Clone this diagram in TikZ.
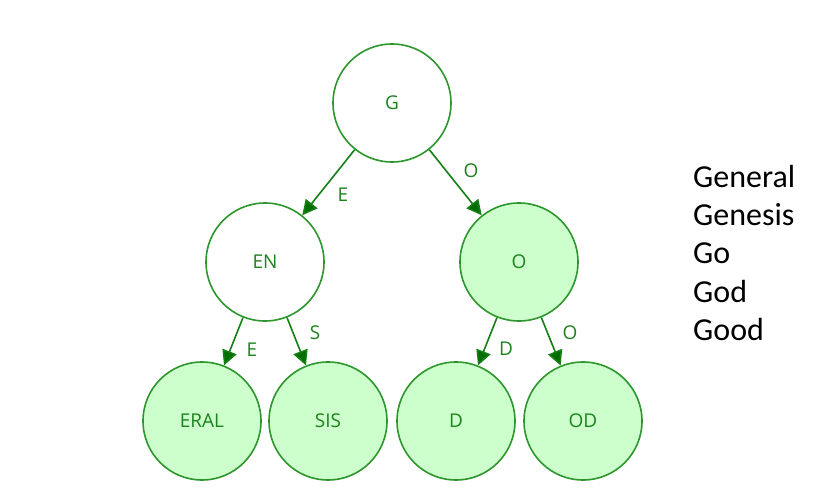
\documentclass[tikz,border=0pt]{standalone}
\usepackage{fontspec}
\setmainfont{Open Sans}
\newfontfamily\listfont{Carlito}
\usetikzlibrary{arrows.meta}
\definecolor{ringgreen}{RGB}{45,150,45}
\definecolor{leafgreen}{RGB}{204,255,204}
\definecolor{edgegreen}{RGB}{20,128,20}
\definecolor{tipgreen}{RGB}{0,110,0}
\definecolor{textgreen}{RGB}{30,130,30}
\tikzset{
  trie/.style={circle, draw=ringgreen, line width=1.6pt, minimum size=118pt,
    inner sep=0pt, text=textgreen, font=\fontsize{19}{22}\selectfont},
  inner/.style={trie, fill=white},
  leaf/.style={trie, fill=leafgreen},
  edge/.style={draw=edgegreen, line width=1.6pt,
    -{Triangle[length=15pt,width=15pt,fill=tipgreen]}},
  lbl/.style={text=textgreen, font=\fontsize{19}{22}\selectfont, inner sep=0pt},
  word/.style={anchor=base west, font=\listfont\fontsize{32}{36}\selectfont, inner sep=0pt}
}
\begin{document}
\begin{tikzpicture}[x=1pt,y=-1pt]
\useasboundingbox (0,0) rectangle (831,495);
% trie nodes
\node[inner] (G)    at (392,103) {G};
\node[inner] (EN)   at (265,262) {EN};
\node[leaf]  (O)    at (519,262) {O};
\node[leaf]  (ERAL) at (202,421) {ERAL};
\node[leaf]  (SIS)  at (328,421) {SIS};
\node[leaf]  (D)    at (456,421) {D};
\node[leaf]  (OD)   at (583,421) {OD};
% edges
\draw[edge] (G) -- (EN);
\draw[edge] (G) -- (O);
\draw[edge] (EN) -- (ERAL);
\draw[edge] (EN) -- (SIS);
\draw[edge] (O) -- (D);
\draw[edge] (O) -- (OD);
% edge letters
\node[lbl] (lGE)  at (343,195) {E};
\node[lbl] (lGO)  at (471,171) {O};
\node[lbl] (lENE) at (252,350) {E};
\node[lbl] (lENS) at (315,333) {S};
\node[lbl] (lOD)  at (506,349) {D};
\node[lbl] (lOO)  at (570,333) {O};
% stored words
\node[word] (w1) at (693,187) {General};
\node[word] (w2) at (693,225) {Genesis};
\node[word] (w3) at (693,263) {Go};
\node[word] (w4) at (693,302) {God};
\node[word] (w5) at (693,340) {Good};
\end{tikzpicture}
\end{document}
